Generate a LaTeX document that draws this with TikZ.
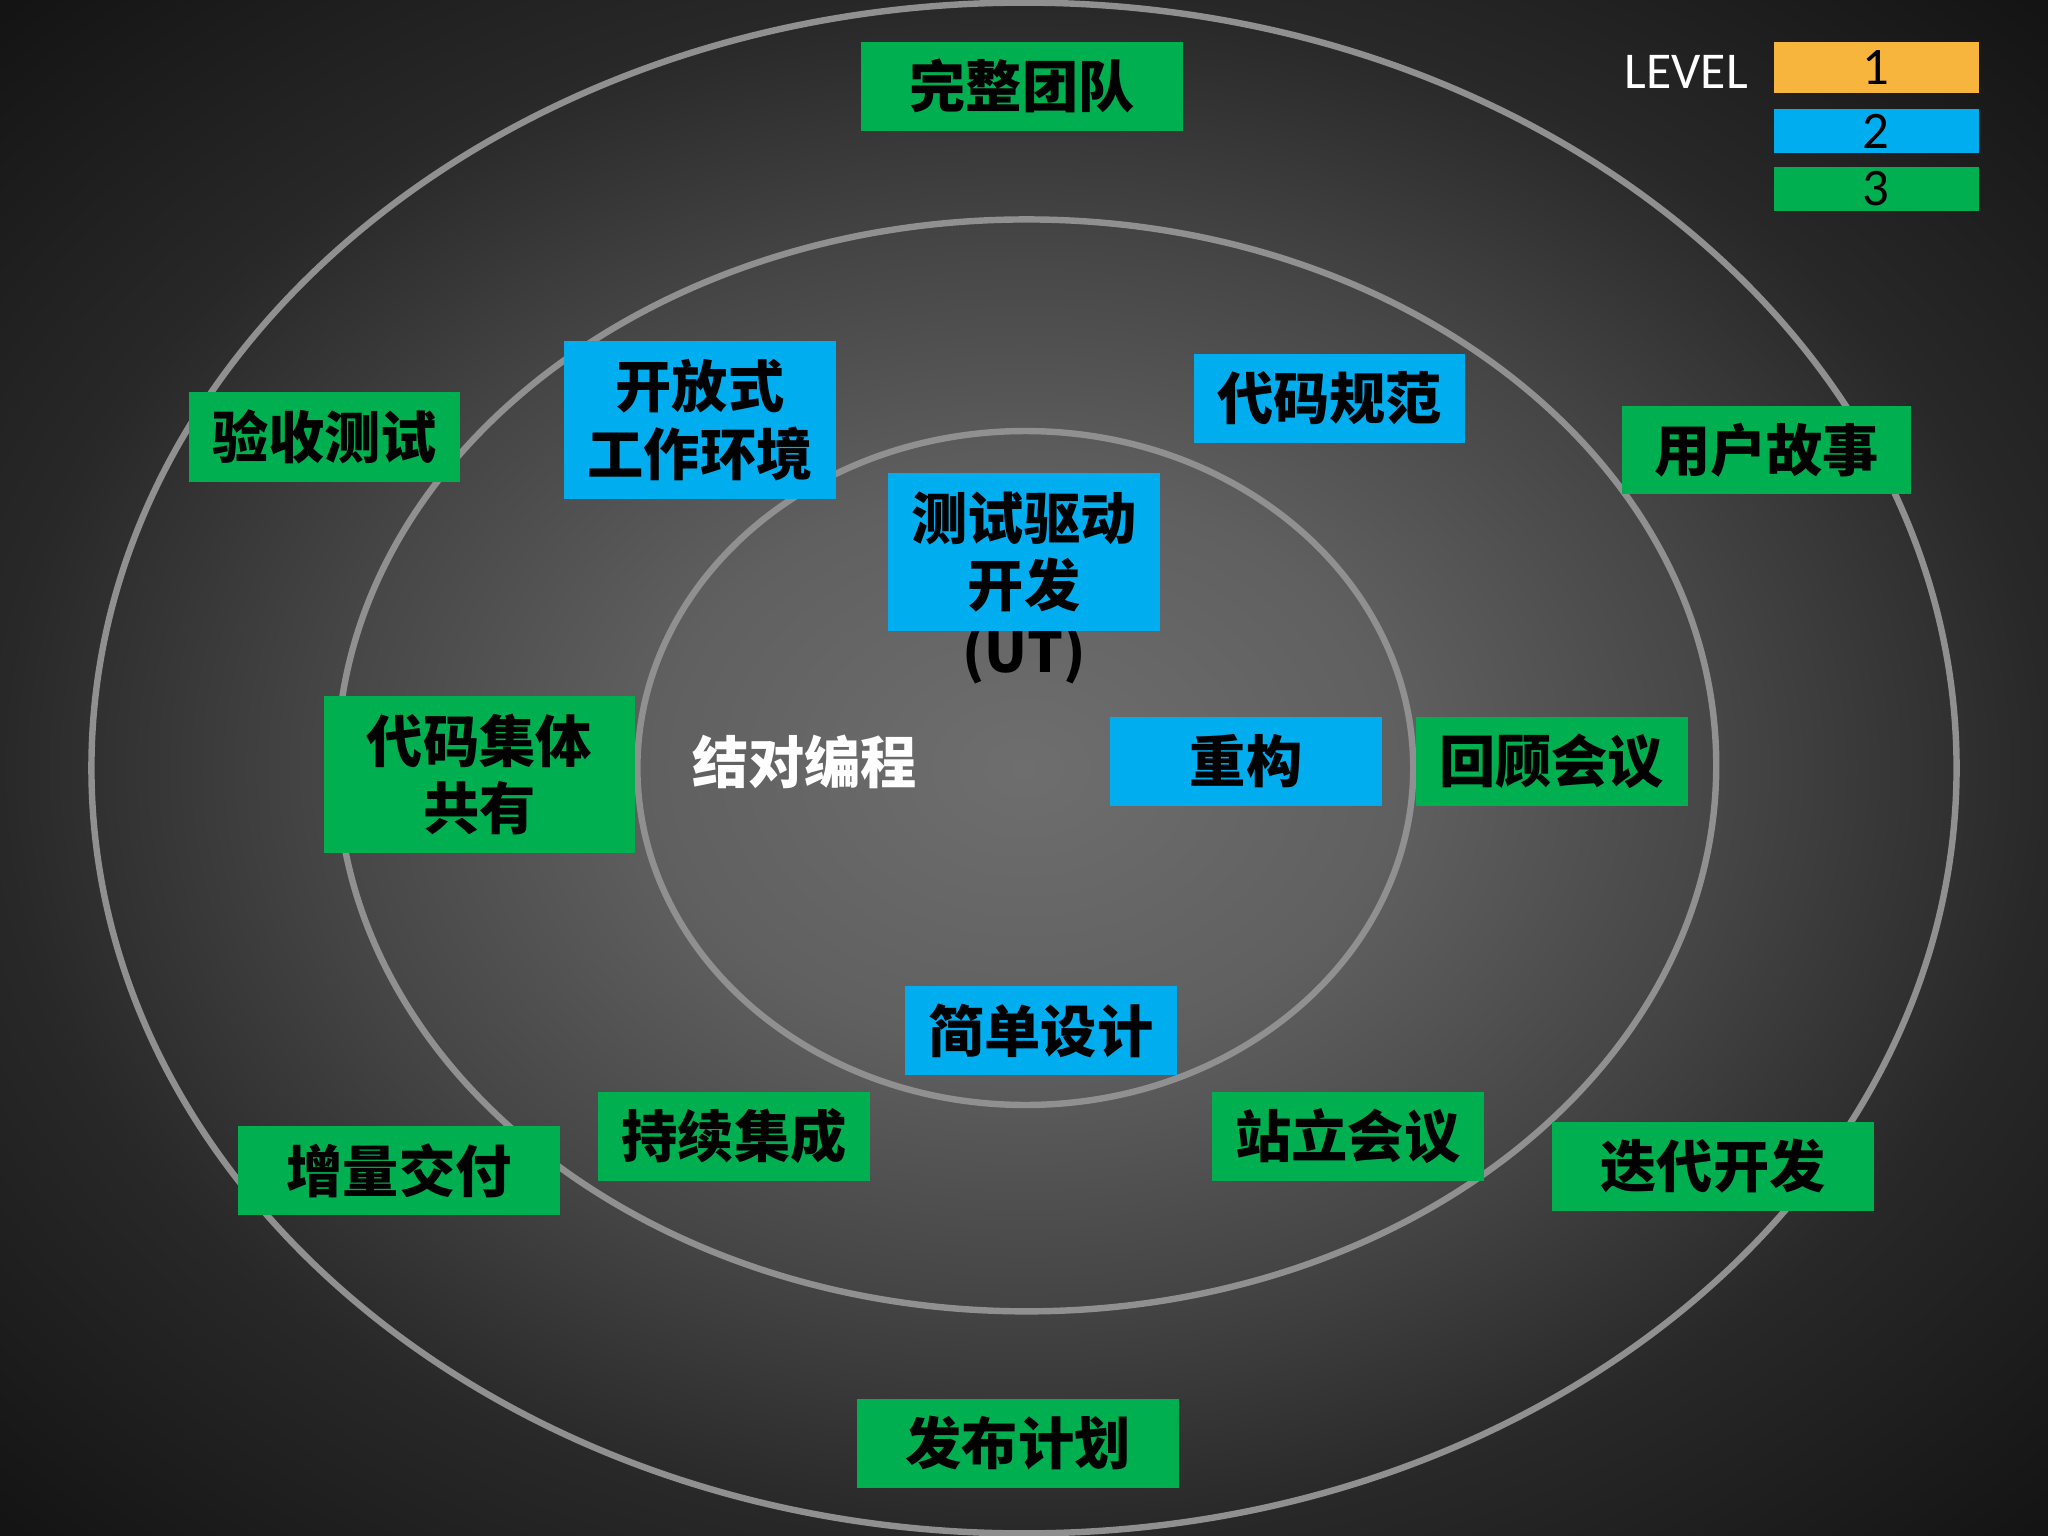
\documentclass[tikz,border=0pt]{standalone}
\usepackage{fontspec}
\setmainfont{Carlito}
\newfontfamily\cjk{Noto Sans CJK SC}
\definecolor{bga}{HTML}{6E6E6E}
\definecolor{bgb}{HTML}{606060}
\definecolor{bgc}{HTML}{464646}
\definecolor{bgm}{HTML}{282828}
\definecolor{bgo}{HTML}{141414}
\definecolor{ringc}{HTML}{909090}
\definecolor{lvgreen}{HTML}{00B050}
\definecolor{lvcyan}{HTML}{00AEEF}
\definecolor{lvorange}{HTML}{F7B53D}
\pgfdeclareradialshading{bgshade}{\pgfpoint{0bp}{0bp}}{color(0bp)=(bga); color(9bp)=(bgb); color(17bp)=(bgc); color(25bp)=(bgm); color(35bp)=(bgo); color(50bp)=(bgo)}
\tikzset{
  ring/.style={draw=ringc, line width=2.8pt},
  card/.style={inner sep=0pt, text=black, align=center, font=\cjk\bfseries\fontsize{24.5}{29.5}\selectfont},
  gcard/.style={card, fill=lvgreen},
  ccard/.style={card, fill=lvcyan},
  legendbox/.style={inner sep=0pt, text=black, font=\fontsize{23}{26}\selectfont, minimum width=3.14cm},
}
\begin{document}
\begin{tikzpicture}[x=0.02cm,y=-0.02cm]
\useasboundingbox (0,0) rectangle (1568,1176);
\shade[shading=bgshade] (0,0) rectangle (1568,1176);
% rings
\draw[ring] (784,588) ellipse [x radius=714, y radius=586];
\draw[ring] (786,586) ellipse [x radius=528, y radius=418];
\draw[ring] (785,588) ellipse [x radius=297, y radius=258];
% (UT) behind the TDD card
\node[card] (ut) at (784,501) {(UT)};
% cards
\node[gcard, minimum width=4.94cm, minimum height=1.36cm] (team) at (782.5,66) {完整团队};
\node[ccard, minimum width=4.16cm, minimum height=2.42cm] (open) at (536,321.5) {开放式\\工作环境};
\node[ccard, minimum width=4.16cm, minimum height=1.36cm] (codestd) at (1018,305) {代码规范};
\node[gcard, minimum width=4.14cm, minimum height=1.38cm] (accept) at (248.5,334.5) {验收测试};
\node[gcard, minimum width=4.42cm, minimum height=1.34cm] (story) at (1352.5,344.5) {用户故事};
\node[ccard, minimum width=4.16cm, minimum height=2.42cm] (tdd) at (784,422.5) {测试驱动\\开发};
\node[gcard, minimum width=4.76cm, minimum height=2.40cm] (own) at (367,593) {代码集体\\共有};
\node[card, text=white] (pair) at (616,583) {结对编程};
\node[ccard, minimum width=4.16cm, minimum height=1.36cm] (refactor) at (954,583) {重构};
\node[gcard, minimum width=4.16cm, minimum height=1.36cm] (retro) at (1188,583) {回顾会议};
\node[ccard, minimum width=4.16cm, minimum height=1.36cm] (simple) at (797,789) {简单设计};
\node[gcard, minimum width=4.16cm, minimum height=1.36cm] (ci) at (562,870) {持续集成};
\node[gcard, minimum width=4.16cm, minimum height=1.36cm] (standup) at (1032,870) {站立会议};
\node[gcard, minimum width=4.94cm, minimum height=1.36cm] (incr) at (305.5,896) {增量交付};
\node[gcard, minimum width=4.94cm, minimum height=1.36cm] (iter) at (1311.5,893) {迭代开发};
\node[gcard, minimum width=4.94cm, minimum height=1.36cm] (release) at (779.5,1105) {发布计划};
% legend
\node[text=white, font=\fontsize{22.5}{26}\selectfont, inner sep=0pt] (level) at (1291,55) {LEVEL};
\node[legendbox, fill=lvorange, minimum height=0.78cm] (l1) at (1436.5,52) {1};
\node[legendbox, fill=lvcyan, minimum height=0.68cm] (l2) at (1436.5,100.5) {2};
\node[legendbox, fill=lvgreen, minimum height=0.68cm] (l3) at (1436.5,144.5) {3};
\end{tikzpicture}
\end{document}
